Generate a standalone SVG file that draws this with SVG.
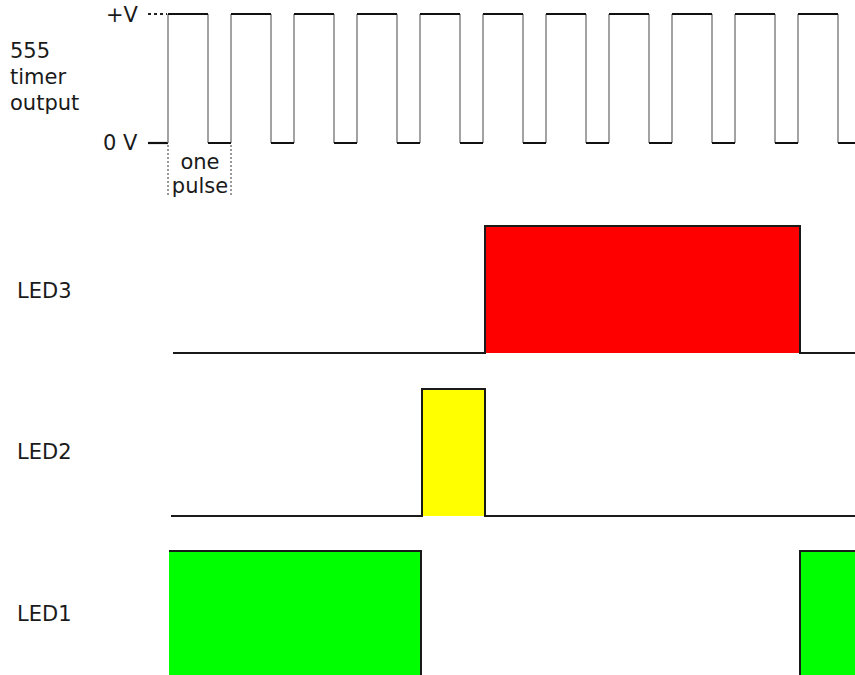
<svg xmlns="http://www.w3.org/2000/svg" width="855" height="675" viewBox="0 0 855 675">
<style>
.t{font-family:"DejaVu Sans",Verdana,sans-serif;font-size:21px;fill:#1a1a1a}
.h{stroke:#111;stroke-width:2.2;fill:none}
.v{stroke:#666;stroke-width:1.2;fill:none}
.w{stroke:#1a1a1a;stroke-width:2;fill:none}
.dot{stroke:#333;stroke-width:1;stroke-dasharray:2 2;fill:none}
</style>
<rect width="855" height="675" fill="#fff"/>
<g id="timer">
<text class="t" x="10" y="58">555</text>
<text class="t" x="10" y="84">timer</text>
<text class="t" x="10" y="110">output</text>
<text class="t" x="106" y="22">+V</text>
<text class="t" x="103" y="150">0 V</text>
<path d="M148 14 H167" stroke="#222" stroke-width="1.8" stroke-dasharray="3 3" fill="none"/>
<path class="h" d="M148 143 H168"/>
<path class="v" d="M168 14V143M208 14V143M231 14V143M271 14V143M294 14V143M334 14V143M357 14V143M397 14V143M420 14V143M460 14V143M483 14V143M523 14V143M546 14V143M586 14V143M609 14V143M649 14V143M672 14V143M712 14V143M735 14V143M775 14V143M798 14V143M838 14V143"/>
<path class="h" d="M168 14H208M231 14H271M294 14H334M357 14H397M420 14H460M483 14H523M546 14H586M609 14H649M672 14H712M735 14H775M798 14H838"/>
<path class="h" d="M208 143H231M271 143H294M334 143H357M397 143H420M460 143H483M523 143H546M586 143H609M649 143H672M712 143H735M775 143H798M838 143H855"/>
<path class="dot" d="M168 145V195M231 145V195"/>
<text class="t" x="200" y="169" text-anchor="middle">one</text>
<text class="t" x="200" y="193" text-anchor="middle">pulse</text>
</g>
<g id="led3">
<text class="t" x="17" y="298">LED3</text>
<rect x="485" y="226" width="315" height="127" fill="#ff0000"/>
<path class="w" d="M173 353H485V226H800V353H855"/>
</g>
<g id="led2">
<text class="t" x="17" y="459">LED2</text>
<rect x="422" y="389" width="63" height="127" fill="#ffff00"/>
<path class="w" d="M171 516H422V389H485V516H855"/>
</g>
<g id="led1">
<text class="t" x="17" y="621">LED1</text>
<rect x="169" y="551" width="252" height="124" fill="#00ff00"/>
<rect x="800" y="551" width="55" height="124" fill="#00ff00"/>
<path class="w" d="M169 551H421V675"/>
<path class="w" d="M800 675V551H855"/>
</g>
</svg>
